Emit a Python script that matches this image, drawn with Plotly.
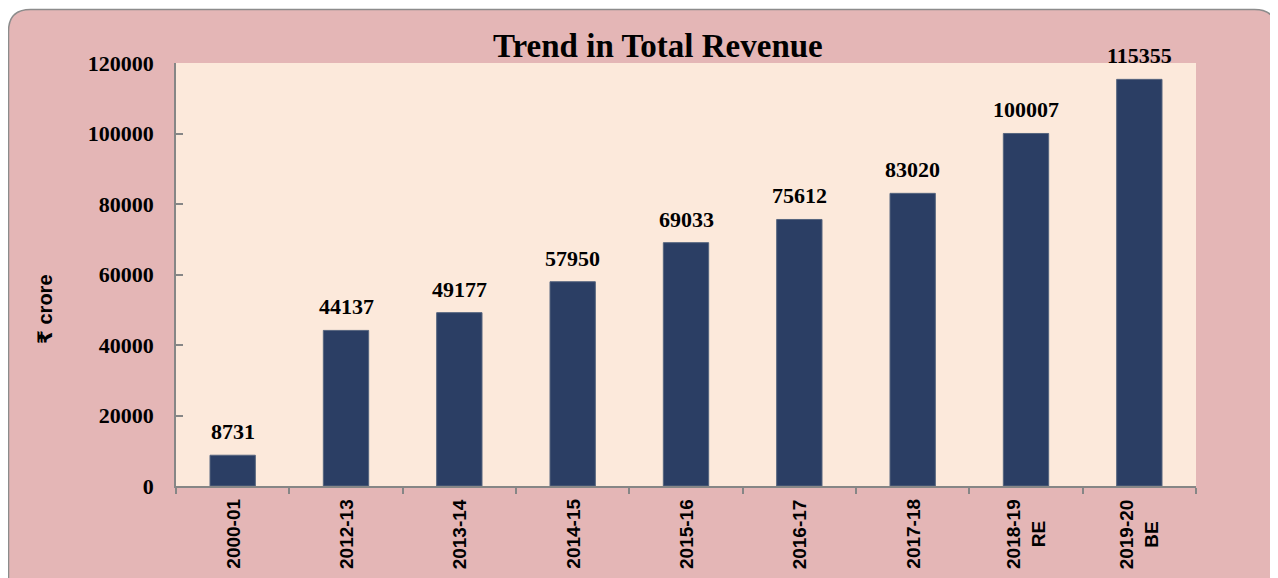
import plotly.graph_objects as go

categories = ["2000-01", "2012-13", "2013-14", "2014-15", "2015-16",
              "2016-17", "2017-18", "2018-19", "2019-20"]
tick_labels = ["2000-01", "2012-13", "2013-14", "2014-15", "2015-16",
               "2016-17", "2017-18", "2018-19<br>RE", "2019-20<br>BE"]
revenue = [8731, 44137, 49177, 57950, 69033, 75612, 83020, 100007, 115355]

# the page adds an 8px body margin, so work in figure coordinates = page - 8
OFF = 8
W, H = 1278 - OFF, 578 - OFF
ML, MT = 176 - OFF, 63 - OFF
MR = W - (1196 - OFF)
MB = H - (486 - OFF)
PW, PH = W - ML - MR, H - MT - MB


def px(x):
    """page x -> paper x"""
    return (x - OFF - ML) / PW


def py(y):
    """page y -> paper y"""
    return (H - MB - (y - OFF)) / PH


def rounded_rect(x0, y0, x1, y1, r):
    rx, ry = r / PW, r / PH
    X0, X1 = px(x0), px(x1)
    Y0, Y1 = py(y0), py(y1)
    return (f"M {X0+rx} {Y0} L {X1-rx} {Y0} Q {X1} {Y0} {X1} {Y0-ry} "
            f"L {X1} {Y1+ry} Q {X1} {Y1} {X1-rx} {Y1} "
            f"L {X0+rx} {Y1} Q {X0} {Y1} {X0} {Y1+ry} "
            f"L {X0} {Y0-ry} Q {X0} {Y0} {X0+rx} {Y0} Z")


serif = "Liberation Serif, DejaVu Serif, serif"
sans = "Liberation Sans, DejaVu Sans, sans-serif"

fig = go.Figure()
fig.add_trace(go.Bar(
    x=categories, y=revenue, width=0.4,
    marker=dict(color="#2B3E64", line=dict(color="#56657F", width=1)),
    hoverinfo="x+y",
))

annotations = []
for c, v in zip(categories, revenue):
    annotations.append(dict(
        x=c, y=v, xref="x", yref="y", text=f"<b>{v}</b>", showarrow=False,
        xanchor="center", yanchor="bottom", yshift=9,
        font=dict(family=serif, size=22, color="black"),
    ))
for c, t in zip(categories, tick_labels):
    annotations.append(dict(
        x=c, y=0, xref="x", yref="paper", text=f"<b>{t}</b>", showarrow=False,
        textangle=-90, xanchor="center", yanchor="top", yshift=-11,
        align="center",
        font=dict(family=sans, size=19, color="black"),
    ))
annotations.append(dict(
    x=px(658), y=1.0, xref="paper", yref="paper", xanchor="center",
    yanchor="bottom", yshift=-3,
    text="<b>Trend in Total Revenue</b>", showarrow=False,
    font=dict(family=serif, size=33, color="black"),
))
annotations.append(dict(
    x=px(45), y=py(309), xref="paper", yref="paper",
    xanchor="center", yanchor="middle",
    text="<b>₹ crore</b>", showarrow=False, textangle=-90,
    font=dict(family=sans + ", Noto Sans", size=20, color="black"),
))

shapes = [
    dict(type="path", xref="paper", yref="paper", layer="below",
         path=rounded_rect(8.5, 9.5, 1276.5, 620, 22),
         fillcolor="#E4B6B6", line=dict(color="#8C8C8C", width=1.5)),
    dict(type="rect", xref="paper", yref="paper", layer="below",
         x0=0, x1=1, y0=0, y1=1, fillcolor="#FCE9DB", line=dict(width=0)),
]

fig.update_layout(
    width=W, height=H,
    margin=dict(l=ML, r=MR, t=MT, b=MB, autoexpand=False),
    paper_bgcolor="white", plot_bgcolor="rgba(0,0,0,0)",
    showlegend=False,
    annotations=annotations, shapes=shapes,
    xaxis=dict(
        type="category", showticklabels=False, tickson="boundaries",
        ticks="outside", ticklen=6, tickcolor="#868686", tickwidth=1.5,
        showline=True, linecolor="#868686", linewidth=1.5, showgrid=False,
        range=[-0.5, 8.5],
    ),
    yaxis=dict(
        range=[0, 120000], dtick=20000, tickformat="d",
        ticks="inside", ticklen=7, tickcolor="#868686", tickwidth=1.5,
        showline=True, linecolor="#868686", linewidth=1.5, showgrid=False,
        zeroline=False, ticklabelstandoff=16,
        tickfont=dict(family=serif, size=22, color="black", weight="bold"),
    ),
)

fig.write_html("out.html")
